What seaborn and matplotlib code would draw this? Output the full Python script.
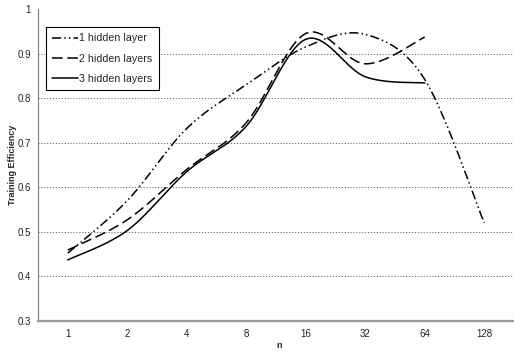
import numpy as np
import pandas as pd
import matplotlib
matplotlib.use("Agg")
import matplotlib.pyplot as plt
import seaborn as sns
from matplotlib.lines import Line2D

categories = ["1", "2", "4", "8", "16", "32", "64", "128"]
one_hidden = [0.452, 0.570, 0.732, 0.830, 0.915, 0.943, 0.842, 0.520]
two_hidden = [0.459, 0.527, 0.640, 0.745, 0.945, 0.877, 0.937]
three_hidden = [0.437, 0.503, 0.635, 0.737, 0.932, 0.848, 0.834]
series_names = ["1 hidden layer", "2 hidden layers", "3 hidden layers"]
y_ticks = [0.3, 0.4, 0.5, 0.6, 0.7, 0.8, 0.9, 1.0]


def smooth(vals, n=40):
    """Excel-like smoothed line (Bezier with 1/6 control points, Catmull-Rom)."""
    x = np.arange(len(vals), dtype=float)
    y = np.asarray(vals, dtype=float)
    P = np.column_stack([x, y])
    out = []
    for i in range(len(P) - 1):
        p0 = P[i - 1] if i > 0 else P[i]
        p1 = P[i]
        p2 = P[i + 1]
        p3 = P[i + 2] if i + 2 < len(P) else P[i + 1]
        c1 = p1 + (p2 - p0) / 6.0
        c2 = p2 - (p3 - p1) / 6.0
        t = np.linspace(0, 1, n, endpoint=(i == len(P) - 2))[:, None]
        b = ((1 - t) ** 3) * p1 + 3 * ((1 - t) ** 2) * t * c1 + 3 * (1 - t) * t ** 2 * c2 + t ** 3 * p2
        out.append(b)
    return np.vstack(out)


frames = []
for name, vals in zip(series_names, [one_hidden, two_hidden, three_hidden]):
    s = smooth(vals)
    frames.append(pd.DataFrame({"pos": s[:, 0], "eff": s[:, 1], "series": name}))
df = pd.concat(frames, ignore_index=True)

sns.set_theme(style="white")
plt.rcParams["font.family"] = ["Liberation Sans", "DejaVu Sans"]

W, H = 514, 353
fig = plt.figure(figsize=(W / 100, H / 100), dpi=100)
left, right, top, bottom = 38, 514, 9, 321
ax = fig.add_axes([left / W, 1 - bottom / H, (right - left) / W, (bottom - top) / H])

dashes = {
    "1 hidden layer": (6, 2, 1, 2, 1, 2),
    "2 hidden layers": (7, 3),
    "3 hidden layers": "",
}
sns.lineplot(data=df, x="pos", y="eff", hue="series", style="series",
             palette={n: "black" for n in series_names}, dashes=dashes,
             sort=False, estimator=None, units="series", linewidth=1.1, ax=ax,
             legend=False)

ax.set_xlim(-0.5, -0.5 + (right - left) / 60.5)
ax.set_ylim(0.3, 1.0)
ax.set_yticks(y_ticks)
ax.set_yticklabels(["0.3", "0.4", "0.5", "0.6", "0.7", "0.8", "0.9", "1"])
ax.set_xticks(np.arange(len(categories)))
ax.set_xticklabels(categories)
ax.set_xticks(np.arange(len(categories) + 1) - 0.5, minor=True)
ax.tick_params(axis="x", which="major", length=0, pad=6, labelsize=7, colors="#222222")
ax.tick_params(axis="x", which="minor", length=3, width=0.8, color="#888888", direction="out")
ax.tick_params(axis="y", which="major", length=3, width=0.8, color="#888888", direction="out",
               labelsize=7, pad=2, labelcolor="#222222")
for yv in y_ticks[1:-1]:
    ax.axhline(yv, color="#666666", linestyle=(0, (1.2, 1.8)), linewidth=0.7, zorder=0)

for side in ["top", "right"]:
    ax.spines[side].set_visible(False)
ax.spines["left"].set_color("#888888")
ax.spines["left"].set_linewidth(0.9)
ax.spines["bottom"].set_color("#999999")
ax.spines["bottom"].set_linewidth(1.6)

ax.set_xlabel("")
ax.set_ylabel("")
fig.text(13 / W, 1 - 165 / H, "Training Efficiency", fontsize=6.5, fontweight="bold",
         rotation=90, ha="center", va="center")
fig.text(279 / W, 1 - 345 / H, "n", fontsize=6.5, fontweight="bold", ha="center", va="center")

handles = [Line2D([], [], color="black", linewidth=1.1,
                  linestyle=(0, dashes[n]) if dashes[n] else "-") for n in series_names]
leg = ax.legend(handles, series_names, loc="upper left",
                bbox_to_anchor=((46 - left) / (right - left), 1 - (27 - top) / (bottom - top)),
                fontsize=7.7, frameon=True, fancybox=False, edgecolor="black", framealpha=1,
                handlelength=2.35, handletextpad=0.15, borderpad=0.6, labelspacing=0.95,
                borderaxespad=0)
leg.get_frame().set_linewidth(0.8)

fig.savefig("out.png", dpi=100)
